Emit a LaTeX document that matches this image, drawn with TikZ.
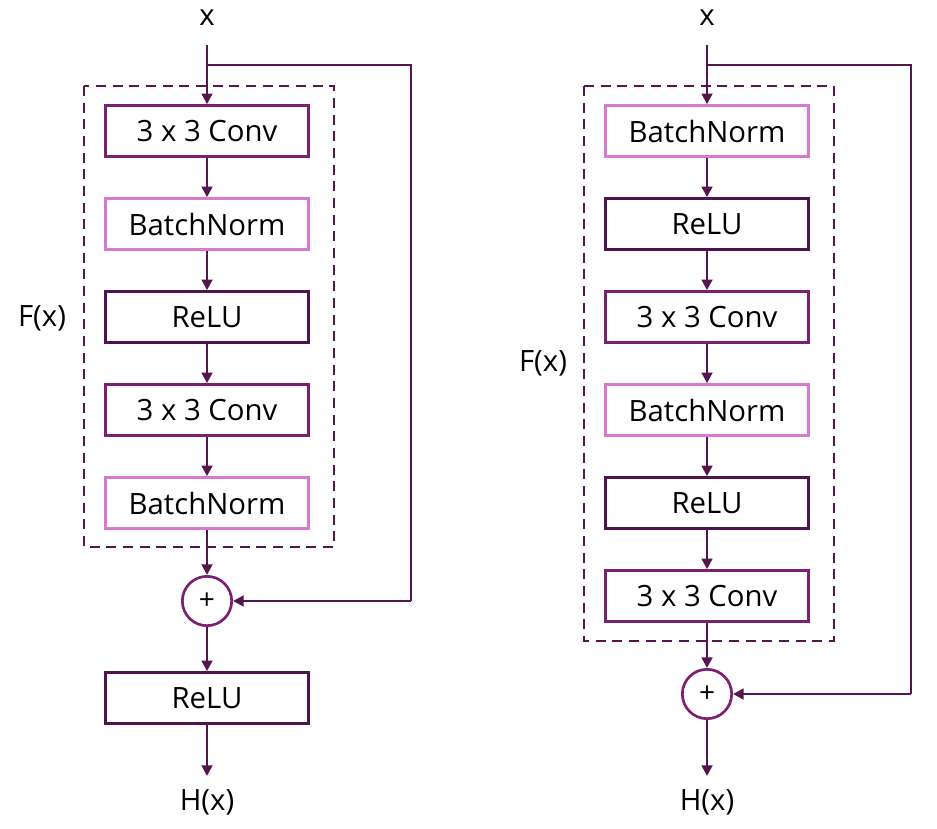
\documentclass[tikz,border=0pt]{standalone}
\usepackage{fontspec}
\setmainfont{Open Sans}
\usepackage{tikz}
\usetikzlibrary{positioning,arrows.meta}

\definecolor{wire}{HTML}{54164F}
\definecolor{convc}{HTML}{7B2070}
\definecolor{reluc}{HTML}{4E1450}
\definecolor{bnc}{HTML}{D878D0}

\tikzset{
  layer/.style={draw,line width=2.2pt,fill=white,minimum width=152pt,minimum height=38pt,inner sep=0pt,font=\fontsize{22}{26}\selectfont},
  conv/.style={layer,draw=convc},
  bn/.style={layer,draw=bnc},
  relu/.style={layer,draw=reluc},
  addop/.style={circle,draw=convc,line width=2pt,minimum size=37pt,inner sep=0pt,font=\fontsize{21}{24}\selectfont},
  lbl/.style={font=\fontsize{22}{26}\selectfont,inner sep=0pt},
  flow/.style={draw=wire,line width=2.1pt,-{Triangle[length=8pt,width=8pt]}},
  skip/.style={draw=wire,line width=2.1pt},
  block/.style={draw=wire,line width=2.1pt,dash pattern=on 7.5pt off 5pt}
}

\begin{document}
\begin{tikzpicture}[x=0.75pt,y=-0.75pt]
  \useasboundingbox (0,0) rectangle (937,828);

  % left: post-activation block
  \draw[block] (84,86) rectangle (334,547);
  \node[lbl] (xa) at (207,18) {x};
  \coordinate (xa0) at (207,45);
  \node[conv] (ca1) at (207,131) {3 x 3 Conv};
  \node[bn]   (ba1) at (207,224) {BatchNorm};
  \node[relu] (ra1) at (207,317) {ReLU};
  \node[conv] (ca2) at (207,410) {3 x 3 Conv};
  \node[bn]   (ba2) at (207,503) {BatchNorm};
  \node[addop] (sa) at (207,601) {+};
  \node[relu] (ra3) at (207,698) {ReLU};
  \node[lbl] (ha) at (207,802) {H(x)};
  \coordinate (ha0) at (207,776);
  \node[lbl] (fa) at (42,318) {F(x)};
  \coordinate (ka1) at (207,65);
  \coordinate (ka2) at (411,65);
  \coordinate (ka3) at (411,601);

  \draw[flow] (xa0) -- (ca1);
  \draw[flow] (ca1) -- (ba1);
  \draw[flow] (ba1) -- (ra1);
  \draw[flow] (ra1) -- (ca2);
  \draw[flow] (ca2) -- (ba2);
  \draw[flow] (ba2) -- (sa);
  \draw[flow] (sa) -- (ra3);
  \draw[flow] (ra3) -- (ha0);
  \draw[skip] (ka1) -- (ka2) -- (ka3);
  \draw[flow] (ka3) -- (sa);

  % right: pre-activation block
  \draw[block] (584,86) rectangle (834,641);
  \node[lbl] (xb) at (707,18) {x};
  \coordinate (xb0) at (707,45);
  \node[bn]   (bb1) at (707,131) {BatchNorm};
  \node[relu] (rb1) at (707,224) {ReLU};
  \node[conv] (cb1) at (707,317) {3 x 3 Conv};
  \node[bn]   (bb2) at (707,410) {BatchNorm};
  \node[relu] (rb2) at (707,503) {ReLU};
  \node[conv] (cb2) at (707,596) {3 x 3 Conv};
  \node[addop] (sb) at (707,694) {+};
  \node[lbl] (hb) at (707,802) {H(x)};
  \coordinate (hb0) at (707,776);
  \node[lbl] (fb) at (543,363) {F(x)};
  \coordinate (kb1) at (707,65);
  \coordinate (kb2) at (911,65);
  \coordinate (kb3) at (911,694);

  \draw[flow] (xb0) -- (bb1);
  \draw[flow] (bb1) -- (rb1);
  \draw[flow] (rb1) -- (cb1);
  \draw[flow] (cb1) -- (bb2);
  \draw[flow] (bb2) -- (rb2);
  \draw[flow] (rb2) -- (cb2);
  \draw[flow] (cb2) -- (sb);
  \draw[flow] (sb) -- (hb0);
  \draw[skip] (kb1) -- (kb2) -- (kb3);
  \draw[flow] (kb3) -- (sb);
\end{tikzpicture}
\end{document}
